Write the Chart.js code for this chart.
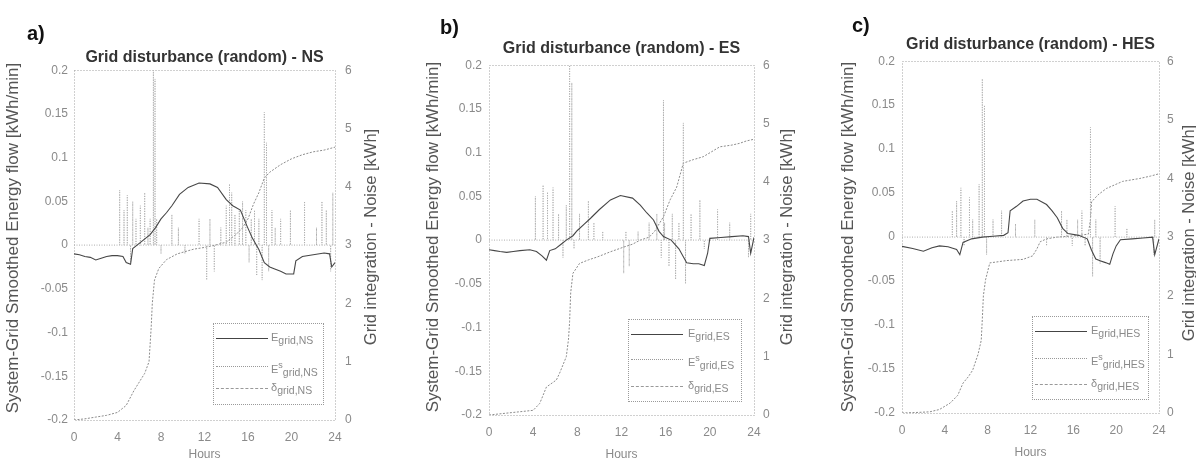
<!DOCTYPE html>
<html>
<head>
<meta charset="utf-8">
<title>Grid disturbance (random)</title>
<script src="https://cdn.jsdelivr.net/npm/chart.js@4.4.1/dist/chart.umd.min.js"></script>
<style>
  html, body { margin: 0; padding: 0; background: #fff; }
  #wrap { position: relative; width: 1196px; height: 462px; overflow: hidden; font-family: "Liberation Sans", Arial, sans-serif; }
  #wrap canvas { position: absolute; top: 0; }
  .tag { position: absolute; font-size: 20px; font-weight: bold; color: #111; line-height: 1; }
  .legend { position: absolute; border: 1px dotted #9a9a9a; color: #8a8a8a; font-size: 11px; }
  .legend .sample { position: absolute; left: 2px; width: 52px; height: 0; }
  .legend .label { position: absolute; white-space: nowrap; line-height: 12px; }
  .legend sub { font-size: 10.5px; }
  .legend sup { font-size: 9px; }
</style>
</head>
<body>
<div id="wrap">
  <canvas id="chartNS" width="398" height="462" style="left:0px"></canvas>
  <canvas id="chartES" width="400" height="462" style="left:398px"></canvas>
  <canvas id="chartHES" width="398" height="462" style="left:798px"></canvas>
  <div class="tag" style="left:27px;top:23px">a)</div>
  <div class="tag" style="left:440px;top:17px">b)</div>
  <div class="tag" style="left:852px;top:15px">c)</div>
</div>
<script>
// ticks
const xTicks = [0, 4, 8, 12, 16, 20, 24];
const leftTicks = [-0.2, -0.15, -0.1, -0.05, 0, 0.05, 0.1, 0.15, 0.2];
const rightTicks = [0, 1, 2, 3, 4, 5, 6];

// NS - smoothed grid flow [kWh/min]
const smoothHoursNS = [0, 0.5, 1, 1.5, 2, 2.5, 3, 3.5, 4, 4.5, 4.8, 5.2, 5.4, 5.8, 6.2, 6.6, 7.0, 7.5, 8.0, 8.5, 9.0, 9.7, 10.5, 11.5, 12.5, 13.2, 14.0, 14.6, 15.3, 15.9, 16.4, 17.0, 17.5, 18.0, 18.4, 19.0, 19.5, 20.2, 20.4, 21.0, 22.0, 23.0, 23.5, 23.7, 24];
const smoothNS = [-0.010, -0.011, -0.013, -0.014, -0.017, -0.015, -0.013, -0.012, -0.012, -0.013, -0.020, -0.022, -0.004, 0.000, 0.004, 0.008, 0.012, 0.020, 0.030, 0.037, 0.045, 0.058, 0.066, 0.071, 0.070, 0.066, 0.052, 0.045, 0.040, 0.022, 0.008, -0.005, -0.020, -0.025, -0.027, -0.030, -0.033, -0.033, -0.018, -0.013, -0.011, -0.009, -0.010, -0.025, -0.020];
// NS - noise spikes
const noiseHoursNS = [4.2, 4.6, 4.9, 5.2, 5.4, 5.7, 6.1, 6.5, 6.8, 7.0, 7.3, 7.45, 7.6, 8.0, 9.0, 9.6, 10.2, 11.5, 12.2, 12.5, 12.9, 13.5, 14.0, 14.3, 14.5, 14.8, 15.2, 15.5, 15.8, 16.1, 16.3, 16.6, 16.8, 17.0, 17.3, 17.5, 17.7, 17.9, 18.2, 18.5, 19.0, 19.9, 21.2, 22.3, 22.8, 23.2, 23.6, 23.8];
const noiseNS = [0.063, 0.04, 0.057, -0.02, 0.05, 0.03, 0.045, 0.06, 0.02, 0.03, 0.2, 0.19, 0.03, -0.01, 0.035, 0.02, -0.01, 0.03, -0.04, 0.03, -0.03, 0.02, 0.045, 0.07, 0.06, 0.035, 0.04, 0.05, 0.04, -0.02, 0.03, 0.04, -0.035, 0.03, -0.04, 0.152, 0.117, -0.03, 0.04, 0.02, 0.03, 0.04, 0.05, 0.02, 0.05, 0.04, -0.03, 0.06];
// NS - grid integration [kWh]
const integHoursNS = [0, 1, 2, 3, 4, 4.8, 5.5, 6.0, 6.5, 6.9, 7.1, 7.2, 7.4, 7.8, 8.5, 9.5, 11.0, 12.0, 13.0, 14.0, 15.0, 15.5, 16.0, 16.5, 17.0, 17.5, 18.0, 19.0, 20.0, 21.0, 22.0, 23.0, 24];
const integNS = [0, 0.02, 0.05, 0.08, 0.13, 0.25, 0.5, 0.65, 0.8, 1.0, 1.6, 2.0, 2.4, 2.6, 2.75, 2.85, 2.93, 2.96, 3.0, 3.05, 3.2, 3.3, 3.45, 3.7, 3.9, 4.15, 4.25, 4.38, 4.48, 4.55, 4.6, 4.63, 4.68];

// ES
const smoothHoursES = [0, 0.5, 1, 1.6, 2.2, 2.8, 3.7, 4.3, 4.8, 5.2, 5.5, 6.0, 6.5, 7.0, 7.6, 8.0, 8.6, 9.2, 10.0, 11.0, 11.9, 13.0, 13.7, 14.3, 14.9, 15.4, 15.8, 16.5, 17.2, 17.9, 18.5, 19.0, 19.5, 19.8, 20.0, 21.0, 22.0, 23.0, 23.5, 23.7, 24];
const smoothES = [-0.011, -0.012, -0.013, -0.014, -0.013, -0.012, -0.011, -0.013, -0.018, -0.023, -0.012, -0.010, -0.005, 0.000, 0.005, 0.011, 0.018, 0.025, 0.035, 0.046, 0.051, 0.048, 0.040, 0.031, 0.023, 0.010, 0.004, 0.000, -0.010, -0.026, -0.027, -0.027, -0.029, -0.015, 0.002, 0.003, 0.004, 0.005, 0.004, -0.015, 0.003];
const noiseHoursES = [4.2, 4.9, 5.3, 5.8, 6.3, 6.7, 7.0, 7.3, 7.5, 7.7, 8.2, 9.0, 9.5, 10.3, 12.2, 12.4, 12.7, 13.5, 14.5, 15.2, 15.6, 15.8, 15.9, 16.3, 16.6, 16.9, 17.2, 17.6, 17.8, 18.3, 19.1, 19.5, 20.7, 21.8, 23.5, 23.7];
const noiseES = [0.05, 0.063, 0.055, 0.06, 0.03, -0.02, 0.04, 0.2, 0.18, -0.01, 0.03, 0.045, 0.02, 0.01, -0.038, 0.01, -0.03, 0.01, 0.02, 0.03, -0.02, 0.16, 0.02, -0.03, 0.03, -0.045, 0.02, 0.134, -0.05, 0.03, 0.046, -0.01, 0.035, 0.02, -0.02, 0.03];
const integHoursES = [0, 1, 2, 3, 4, 4.6, 5.2, 6.1, 6.4, 7.0, 7.2, 7.3, 7.4, 7.6, 8.2, 9.0, 9.8, 11.0, 12.2, 13.0, 13.7, 14.5, 15.0, 15.8, 16.4, 17.0, 17.6, 18.5, 19.4, 20.2, 20.9, 22.0, 22.7, 23.3, 24];
const integES = [0, 0.02, 0.04, 0.06, 0.08, 0.2, 0.48, 0.6, 0.72, 1.0, 1.3, 1.6, 2.1, 2.43, 2.6, 2.66, 2.71, 2.8, 2.88, 2.93, 3.0, 3.05, 3.15, 3.4, 3.69, 3.91, 4.32, 4.38, 4.43, 4.52, 4.6, 4.63, 4.66, 4.7, 4.73];

// HES
const smoothHoursHES = [0, 1, 2, 2.8, 3.5, 4.3, 5.1, 5.4, 5.7, 6.5, 7.5, 8.5, 9.5, 9.9, 10.1, 10.7, 11.3, 12.0, 12.6, 13.5, 14.0, 14.5, 15.0, 15.5, 16.5, 17.3, 17.7, 18.1, 18.5, 19.0, 19.4, 19.7, 20.0, 20.4, 21.5, 22.5, 23.4, 23.6, 24];
const smoothHES = [-0.0105, -0.013, -0.016, -0.012, -0.010, -0.011, -0.014, -0.020, -0.006, -0.002, 0.000, 0.001, 0.002, 0.005, 0.030, 0.035, 0.041, 0.043, 0.043, 0.037, 0.030, 0.022, 0.010, 0.004, 0.002, -0.002, -0.015, -0.025, -0.027, -0.029, -0.031, -0.019, -0.010, -0.003, -0.002, -0.001, 0.000, -0.020, -0.002];
const noiseHoursHES = [4.7, 5.1, 5.5, 5.8, 6.3, 6.6, 7.2, 7.5, 7.7, 7.9, 8.5, 9.3, 10.6, 12.4, 13.5, 14.9, 15.4, 15.9, 16.4, 16.8, 17.1, 17.6, 17.8, 18.1, 18.5, 19.9, 21.0, 23.5, 23.6];
const noiseHES = [0.03, 0.041, 0.056, -0.01, 0.045, 0.02, 0.06, 0.18, 0.15, -0.02, 0.02, 0.03, 0.015, 0.02, -0.01, 0.03, 0.02, -0.01, 0.02, 0.03, -0.01, 0.125, -0.045, 0.02, -0.03, 0.035, 0.01, -0.02, 0.02];
const integHoursHES = [0, 1.5, 2.6, 3.5, 4.5, 5.2, 5.7, 6.2, 6.6, 7.1, 7.4, 7.5, 7.6, 7.8, 8.2, 9.0, 9.8, 11.3, 12.2, 12.6, 12.9, 13.5, 14.5, 16.0, 17.4, 17.6, 17.7, 18.3, 19.1, 20.6, 22.2, 23.2, 24];
const integHES = [0, 0.01, 0.02, 0.06, 0.17, 0.3, 0.51, 0.62, 0.73, 1.0, 1.24, 1.6, 2.0, 2.27, 2.56, 2.58, 2.6, 2.62, 2.68, 2.8, 2.92, 2.97, 3.0, 3.02, 3.05, 3.3, 3.6, 3.72, 3.83, 3.95, 4.0, 4.04, 4.08];

const leftTitle = "System-Grid Smoothed Energy flow [kWh/min]";
const rightTitle = "Grid integration - Noise [kWh]";

function pts(xs, ys) {
    return xs.map((x, i) => ({ x, y: ys[i] }));
}

// zero baseline with a vertical stroke at every spike
function spikes(xs, ys) {
    const out = [{ x: 0, y: 0 }];
    xs.forEach((x, i) => out.push({ x, y: 0 }, { x, y: ys[i] }, { x, y: 0 }));
    out.push({ x: 24, y: 0 });
    return out;
}

// dotted box round the plot + rotated axis titles
const frame = {
    id: "frame",
    beforeDatasetsDraw(chart) {
        const { ctx, chartArea: a } = chart;
        ctx.save();
        ctx.strokeStyle = "#a0a0a0";
        ctx.lineWidth = 1;
        ctx.setLineDash([1, 2]);
        ctx.strokeRect(Math.round(a.left) + 0.5, Math.round(a.top) + 0.5, Math.round(a.width), Math.round(a.height));
        ctx.restore();
    },
    afterDraw(chart, args, opts) {
        const ctx = chart.ctx;
        [opts.left, opts.right].forEach(t => {
            ctx.save();
            ctx.translate(t.x, t.y);
            ctx.rotate(-Math.PI / 2);
            ctx.font = t.font;
            ctx.fillStyle = "#555";
            ctx.textAlign = "center";
            ctx.textBaseline = "middle";
            ctx.fillText(t.text, 0, 0);
            ctx.restore();
        });
    }
};

const panels = [
    {
        canvas: "chartNS", name: "NS", left: 0,
        yW: 74, y2W: 63, xH: 42, titlePad: { top: 48, bottom: 3 },
        yPad: 6, y2Pad: 10, hoursPad: 0,
        leftT: { x: 13, y: 238 }, rightT: { x: 371, y: 237 },
        smooth: [smoothHoursNS, smoothNS], noise: [noiseHoursNS, noiseNS], integ: [integHoursNS, integNS],
        legend: { left: 213, top: 323, width: 109, height: 80, rows: [14, 42, 64], textX: 57 }
    },
    {
        canvas: "chartES", name: "ES", left: 398,
        yW: 91, y2W: 44, xH: 47, titlePad: { top: 39, bottom: 7 },
        yPad: 7, y2Pad: 9, hoursPad: 0,
        leftT: { x: 35, y: 237 }, rightT: { x: 389, y: 237 },
        smooth: [smoothHoursES, smoothES], noise: [noiseHoursES, noiseES], integ: [integHoursES, integES],
        legend: { left: 628, top: 319, width: 112, height: 81, rows: [14, 39, 66], textX: 59 }
    },
    {
        canvas: "chartHES", name: "HES", left: 798,
        yW: 104, y2W: 37, xH: 49, titlePad: { top: 35, bottom: 7 },
        yPad: 7, y2Pad: 8, hoursPad: 2,
        leftT: { x: 50, y: 237 }, rightT: { x: 391, y: 233 },
        smooth: [smoothHoursHES, smoothHES], noise: [noiseHoursHES, noiseHES], integ: [integHoursHES, integHES],
        legend: { left: 1032, top: 316, width: 115, height: 82, rows: [14, 41, 67], textX: 58 }
    }
];

const tickFont = { family: "'Liberation Sans', Arial, sans-serif", size: 12 };
const sampleLines = ["1.5px solid #444", "1px dotted #999", "1px dashed #999"];

function legendLabels(name) {
    const sub = `<sub>grid,${name}</sub>`;
    return [`E${sub}`, `E<sup>s</sup>${sub}`, `&delta;${sub}`];
}

function makeLegend(p) {
    const box = document.createElement("div");
    box.className = "legend";
    Object.assign(box.style, {
        left: p.legend.left + "px", top: p.legend.top + "px",
        width: p.legend.width + "px", height: p.legend.height + "px"
    });
    legendLabels(p.name).forEach((lab, i) => {
        const s = document.createElement("div");
        s.className = "sample";
        s.style.top = p.legend.rows[i] + "px";
        s.style.borderTop = sampleLines[i];
        const t = document.createElement("div");
        t.className = "label";
        t.style.left = p.legend.textX + "px";
        t.style.top = (p.legend.rows[i] - 7) + "px";
        t.innerHTML = lab;
        box.appendChild(s);
        box.appendChild(t);
    });
    document.getElementById("wrap").appendChild(box);
}

function makePanel(p) {
    const ctx = document.getElementById(p.canvas);
    new Chart(ctx, {
        type: "line",
        data: {
            datasets: [
                { label: "E grid," + p.name, data: pts(p.smooth[0], p.smooth[1]), yAxisID: "y", borderColor: "#474747", borderWidth: 1.1, order: 1 },
                { label: "Es grid," + p.name, data: spikes(p.noise[0], p.noise[1]), yAxisID: "y", borderColor: "#adadad", borderWidth: 1, borderDash: [1, 1.5], order: 2 },
                { label: "delta grid," + p.name, data: pts(p.integ[0], p.integ[1]), yAxisID: "y2", borderColor: "#8c8c8c", borderWidth: 1, borderDash: [2, 1.5], order: 3 }
            ]
        },
        options: {
            responsive: false,
            animation: false,
            devicePixelRatio: 1,
            elements: { point: { radius: 0 }, line: { tension: 0, fill: false } },
            layout: { padding: 0 },
            plugins: {
                legend: { display: false },
                tooltip: { enabled: false },
                title: {
                    display: true,
                    text: "Grid disturbance (random) - " + p.name,
                    fullSize: false,
                    color: "#333",
                    font: { family: "'Liberation Sans', Arial, sans-serif", size: 16, weight: "bold" },
                    padding: p.titlePad
                },
                frame: {
                    left: { text: leftTitle, x: p.leftT.x, y: p.leftT.y, font: "17px 'Liberation Sans', Arial, sans-serif" },
                    right: { text: rightTitle, x: p.rightT.x, y: p.rightT.y, font: "16.5px 'Liberation Sans', Arial, sans-serif" }
                }
            },
            scales: {
                x: {
                    type: "linear", min: 0, max: 24,
                    grid: { display: false, drawTicks: false },
                    border: { display: false },
                    ticks: { color: "#8a8a8a", font: tickFont, padding: 10, autoSkip: false, maxRotation: 0 },
                    afterBuildTicks: s => { s.ticks = xTicks.map(v => ({ value: v })); },
                    afterFit: s => { s.height = p.xH; },
                    title: {
                        display: true, text: "Hours", color: "#8a8a8a",
                        font: { family: "'Liberation Sans', Arial, sans-serif", size: 12 },
                        padding: { top: 0, bottom: p.hoursPad }
                    }
                },
                y: {
                    position: "left", min: -0.2, max: 0.2,
                    grid: { display: false, drawTicks: false },
                    border: { display: false },
                    ticks: { color: "#8a8a8a", font: tickFont, padding: p.yPad, callback: v => String(v) },
                    afterBuildTicks: s => { s.ticks = leftTicks.map(v => ({ value: v })); },
                    afterFit: s => { s.width = p.yW; }
                },
                y2: {
                    position: "right", min: 0, max: 6,
                    grid: { display: false, drawTicks: false },
                    border: { display: false },
                    ticks: { color: "#8a8a8a", font: tickFont, padding: p.y2Pad },
                    afterBuildTicks: s => { s.ticks = rightTicks.map(v => ({ value: v })); },
                    afterFit: s => { s.width = p.y2W; }
                }
            }
        },
        plugins: [frame]
    });
    makeLegend(p);
}

panels.forEach(makePanel);
</script>
</body>
</html>
